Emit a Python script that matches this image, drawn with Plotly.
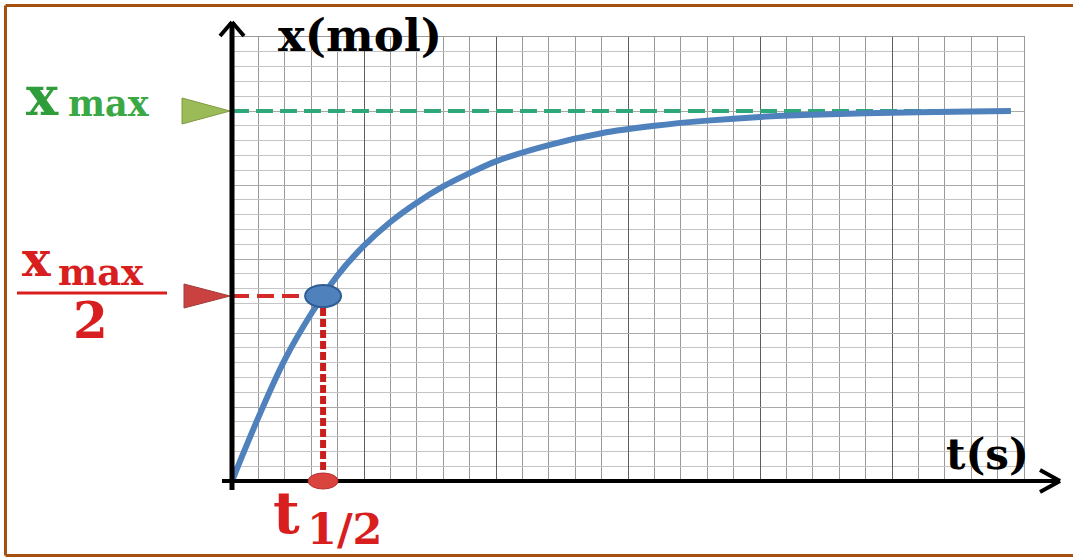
import plotly.graph_objects as go

# ---- data ----
times = [0, 1, 2, 3, 4, 5, 6, 7, 8, 9, 10, 12, 14, 16, 18, 20, 22, 24, 26, 28, 29.5]
x_mol = [0, 4.3, 8.2, 11.3, 13.9, 15.9, 17.5, 18.8, 19.9, 20.8, 21.6, 22.7, 23.5,
         24.0, 24.35, 24.6, 24.75, 24.85, 24.92, 24.97, 25.0]
x_max = 25.0
t_half = 3.45
t_end = 29.5
x_range = [0, 30]
y_range = [0, 30]

W, H = 1073, 557
ML, MR, MT, MB = 232, 49, 37, 76
PW, PH = W - ML - MR, H - MT - MB

def px(t):  # data t -> pixel x
    return ML + (t - x_range[0]) / (x_range[1] - x_range[0]) * PW

def py(v):  # data value -> pixel y
    return MT + PH - (v - y_range[0]) / (y_range[1] - y_range[0]) * PH

def fx(p):  # pixel x -> paper
    return (p - ML) / PW

def fy(p):  # pixel y -> paper
    return (H - MB - p) / PH

RED = "#d81e1e"
GREEN = "#2f9e3a"
BLUE = "#4f81bd"
SERIF = "DejaVu Serif"

fig = go.Figure()

# green dashed x_max line
fig.add_trace(go.Scatter(x=[0, t_end], y=[x_max, x_max], mode="lines",
                         line=dict(color="#2ea878", width=4, dash="17px,7px"),
                         hoverinfo="skip", showlegend=False))
# red dashed horizontal at x_max/2
fig.add_trace(go.Scatter(x=[0, t_half], y=[x_max / 2, x_max / 2], mode="lines",
                         line=dict(color="#d42a2a", width=4, dash="17px,8px"),
                         hoverinfo="skip", showlegend=False))
# red dashed vertical at t_half
fig.add_trace(go.Scatter(x=[t_half, t_half], y=[0, x_max / 2], mode="lines",
                         line=dict(color="#c81e1e", width=6, dash="8px,3px"),
                         hoverinfo="skip", showlegend=False))
# blue curve
fig.add_trace(go.Scatter(x=times, y=x_mol, mode="lines", line_shape="spline",
                         line=dict(color=BLUE, width=6, smoothing=1.0),
                         hoverinfo="skip", showlegend=False))

shapes = []
# frame (top, left, bottom edges)
frame = dict(color="#a5500f", width=3)
shapes += [
    dict(type="line", xref="paper", yref="paper", x0=fx(5.5), x1=fx(1073),
         y0=fy(5.5), y1=fy(5.5), line=frame, layer="below"),
    dict(type="line", xref="paper", yref="paper", x0=fx(5.5), x1=fx(1073),
         y0=fy(555.5), y1=fy(555.5), line=frame, layer="below"),
    dict(type="line", xref="paper", yref="paper", x0=fx(5.5), x1=fx(5.5),
         y0=fy(5.5), y1=fy(555.5), line=frame, layer="below"),
]

# triangle pointers at the left of the y axis
def tri(tip_x, tip_y, length, half_h, fill, edge):
    return dict(type="path", xref="paper", yref="paper",
                path=(f"M {fx(tip_x - length)},{fy(tip_y - half_h)} "
                      f"L {fx(tip_x)},{fy(tip_y)} "
                      f"L {fx(tip_x - length)},{fy(tip_y + half_h)} Z"),
                fillcolor=fill, line=dict(color=edge, width=1))

shapes.append(tri(px(0) - 2, py(x_max), 48, 13, "#9bbb59", "#7f9a40"))
shapes.append(tri(px(0) - 2, py(x_max / 2), 46, 12, "#c9423f", "#a03c3a"))

# axes (black, with chevron arrows)
ax_y = px(0)
ax_x = py(0)
blk = dict(color="black", width=5)
shapes += [
    dict(type="line", xref="paper", yref="paper", x0=fx(ax_y), x1=fx(ax_y),
         y0=fy(490), y1=fy(22), line=blk),
    dict(type="line", xref="paper", yref="paper", x0=fx(ax_y - 12), x1=fx(ax_y),
         y0=fy(36), y1=fy(22), line=dict(color="black", width=4)),
    dict(type="line", xref="paper", yref="paper", x0=fx(ax_y + 12), x1=fx(ax_y),
         y0=fy(36), y1=fy(22), line=dict(color="black", width=4)),
    dict(type="line", xref="paper", yref="paper", x0=fx(222), x1=fx(1060),
         y0=fy(ax_x), y1=fy(ax_x), line=dict(color="black", width=4)),
    dict(type="line", xref="paper", yref="paper", x0=fx(1040), x1=fx(1060),
         y0=fy(ax_x - 11), y1=fy(ax_x), line=dict(color="black", width=4)),
    dict(type="line", xref="paper", yref="paper", x0=fx(1040), x1=fx(1060),
         y0=fy(ax_x + 11), y1=fy(ax_x), line=dict(color="black", width=4)),
]
# blue ellipse at the half-life point
cx, cy = px(t_half), py(x_max / 2)
shapes.append(dict(type="circle", xref="paper", yref="paper",
                   x0=fx(cx - 18), x1=fx(cx + 18), y0=fy(cy + 11), y1=fy(cy - 11),
                   fillcolor=BLUE, line=dict(color="#2f5d94", width=2)))
# red ellipse on the time axis
rx, ry = px(t_half), py(0)
shapes.append(dict(type="circle", xref="paper", yref="paper",
                   x0=fx(rx - 15), x1=fx(rx + 15), y0=fy(ry + 8), y1=fy(ry - 8),
                   fillcolor="#d9443f", line=dict(color="#b83030", width=1)))
# fraction bar of x_max / 2
shapes.append(dict(type="line", xref="paper", yref="paper",
                   x0=fx(17), x1=fx(167), y0=fy(293), y1=fy(293),
                   line=dict(color=RED, width=3)))

def ann(text, x, y, size, color, xanchor="center"):
    return dict(text=text, xref="paper", yref="paper", x=fx(x), y=fy(y),
                xanchor=xanchor, yanchor="middle", showarrow=False,
                font=dict(family=SERIF, size=size, color=color, weight="bold"))

annotations = [
    ann("x(mol)", 360, 35, 45, "black"),
    ann("t(s)", 987, 454, 42, "black"),
    ann("x", 42, 96, 54, GREEN),
    ann("max", 66, 103, 35, "#3aa845", xanchor="left"),
    ann("x", 36, 259, 48, RED),
    ann("max", 56, 272, 37, RED, xanchor="left"),
    ann("2", 90, 320, 50, RED),
    ann("t", 286, 513, 58, RED),
    ann("1/2", 305, 529, 43, RED, xanchor="left"),
]

fig.update_layout(
    width=W, height=H,
    margin=dict(l=ML, r=MR, t=MT, b=MB, pad=0),
    paper_bgcolor="white", plot_bgcolor="white",
    shapes=shapes, annotations=annotations,
    showlegend=False,
    xaxis=dict(range=x_range, dtick=5, tick0=0, showgrid=True, gridcolor="#5e5e5e",
               gridwidth=1.4, showticklabels=False, ticks="", zeroline=False,
               showline=True, mirror=True, linecolor="#999999", linewidth=1,
               minor=dict(dtick=1, tick0=0, showgrid=True, gridcolor="#999999", gridwidth=1.2),
               fixedrange=True),
    yaxis=dict(range=y_range, dtick=5, tick0=0, showgrid=True, gridcolor="#aaaaaa",
               gridwidth=1.3, showticklabels=False, ticks="", zeroline=False,
               showline=True, mirror=True, linecolor="#999999", linewidth=1,
               minor=dict(dtick=1, tick0=0, showgrid=True, gridcolor="#c4c4c4", gridwidth=1.1),
               fixedrange=True),
)

fig.write_html("out.html", config={"displayModeBar": False},
               post_script="document.body.style.margin='0';")
